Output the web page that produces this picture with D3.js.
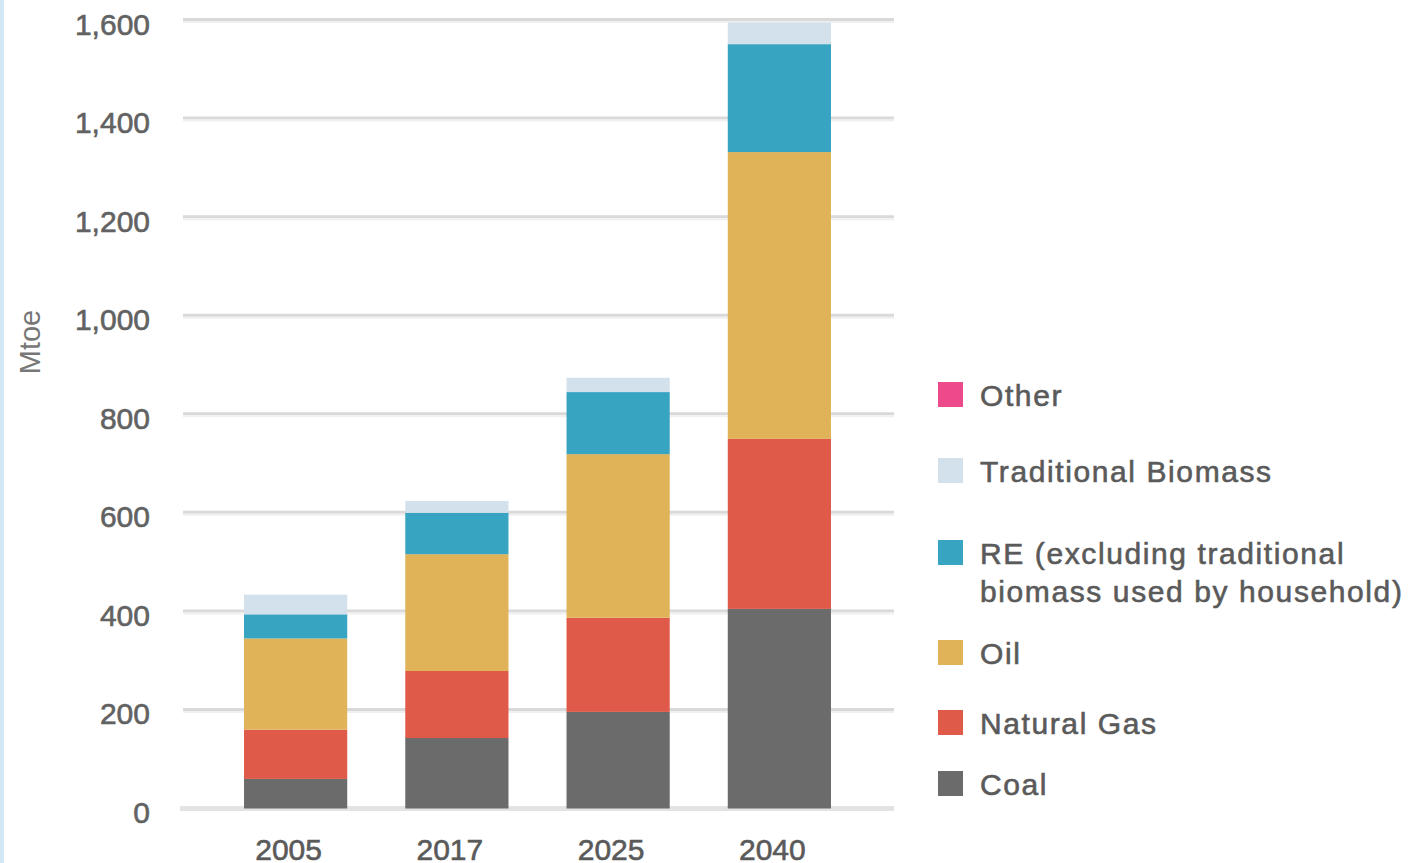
<!DOCTYPE html>
<html>
<head>
<meta charset="utf-8">
<script src="https://cdn.jsdelivr.net/npm/d3@7"></script>
<style>
  html, body { margin: 0; padding: 0; background: #fff; }
  svg { display: block; }
  text { font-family: "Liberation Sans", Arial, sans-serif; }
</style>
</head>
<body>
<div id="chart"></div>
<script>
// ---- Data ----
const years = ["2005", "2017", "2025", "2040"];
const seriesNames = ["Coal", "Natural Gas", "Oil", "RE (excluding traditional biomass used by household)", "Traditional Biomass", "Other"];
const coal = [60, 143, 196, 405];
const naturalGas = [100, 136, 191, 345];
const oil = [185, 237, 332, 582];
const re = [49, 84, 126, 219];
const traditionalBiomass = [40, 24, 29, 44];
const other = [0, 0, 0, 0];
const yTicks = [0, 200, 400, 600, 800, 1000, 1200, 1400, 1600];
const yAxisTitle = "Mtoe";
const legendOrder = ["Other", "Traditional Biomass", "RE (excluding traditional biomass used by household)", "Oil", "Natural Gas", "Coal"];
const legendLines = {
  "RE (excluding traditional biomass used by household)": ["RE (excluding traditional", "biomass used by household)"]
};

// ---- Styles / layout ----
const colors = {
  "Coal": "#6b6b6b",
  "Natural Gas": "#df5a49",
  "Oil": "#e0b358",
  "RE (excluding traditional biomass used by household)": "#37a4c2",
  "Traditional Biomass": "#d3e1ec",
  "Other": "#ec4a8a"
};
const W = 1411, H = 863;
const legendY = [382, 458, 540, 640, 710, 771];

const table = years.map((y, i) => ({
  year: y,
  "Coal": coal[i],
  "Natural Gas": naturalGas[i],
  "Oil": oil[i],
  "RE (excluding traditional biomass used by household)": re[i],
  "Traditional Biomass": traditionalBiomass[i],
  "Other": other[i]
}));

const svg = d3.select("#chart").append("svg").attr("width", W).attr("height", H);

// left accent strip
svg.append("rect").attr("x", 0).attr("y", 0).attr("width", 4).attr("height", H).attr("fill", "#d2e8f6");

const y = d3.scaleLinear().domain([0, 1600]).range([808.5, 20]);
const x = d3.scaleBand().domain(years).range([215, 860]).paddingInner(0.36).paddingOuter(0.18);

// gridlines
const grid = svg.append("g");
yTicks.forEach(t => {
  const gy = y(t);
  if (t === 0) {
    grid.append("line").attr("x1", 180).attr("x2", 894).attr("y1", gy).attr("y2", gy)
      .attr("stroke", "#e3e3e3").attr("stroke-width", 5);
  } else {
    grid.append("line").attr("x1", 183).attr("x2", 894).attr("y1", gy - 0.5).attr("y2", gy - 0.5)
      .attr("stroke", "#d9d9d9").attr("stroke-width", 3);
    grid.append("line").attr("x1", 183).attr("x2", 894).attr("y1", gy + 2).attr("y2", gy + 2)
      .attr("stroke", "#f0f0f0").attr("stroke-width", 2);
  }
});

// y axis labels via d3 axis
const yAxis = d3.axisLeft(y).tickValues(yTicks).tickFormat(d3.format(",")).tickSize(0).tickPadding(0);
const ya = svg.append("g").attr("transform", "translate(150,0)").call(yAxis);
ya.select(".domain").remove();
ya.selectAll("text")
  .attr("font-family", "'Liberation Sans', Arial, sans-serif")
  .attr("font-size", 30)
  .attr("fill", "#626262")
  .attr("stroke", "#626262")
  .attr("stroke-width", 0.6)
  .attr("dy", null)
  .attr("y", 14)
  .attr("text-anchor", "end");

// y title
svg.append("text")
  .attr("transform", "translate(40,342) rotate(-90)")
  .attr("text-anchor", "middle")
  .attr("font-size", 29)
  .attr("fill", "#777")
  .text(yAxisTitle);

// stacked bars
const stack = d3.stack().keys(seriesNames);
const stacked = stack(table);
svg.append("g").selectAll("g").data(stacked).join("g")
  .attr("fill", d => colors[d.key])
  .selectAll("rect").data(d => d).join("rect")
  .attr("x", d => x(d.data.year))
  .attr("width", x.bandwidth())
  .attr("y", d => y(d[1]))
  .attr("height", d => Math.max(0, y(d[0]) - y(d[1])));

// x axis labels
const xAxis = d3.axisBottom(x).tickSize(0).tickPadding(0);
const xa = svg.append("g").call(xAxis);
xa.select(".domain").remove();
xa.selectAll("text")
  .attr("font-family", "'Liberation Sans', Arial, sans-serif")
  .attr("font-size", 30)
  .attr("fill", "#5a5a5a")
  .attr("stroke", "#5a5a5a")
  .attr("stroke-width", 0.6)
  .attr("dy", null)
  .attr("y", 860)
  .attr("dx", -7);

// legend
const lg = svg.append("g");
legendOrder.forEach((name, i) => {
  const ly = legendY[i];
  lg.append("rect").attr("x", 938).attr("y", ly).attr("width", 25).attr("height", 25).attr("fill", colors[name]);
  const lines = legendLines[name] || [name];
  lines.forEach((ln, j) => {
    lg.append("text")
      .attr("x", 980)
      .attr("y", ly + 24 + j * 38)
      .attr("font-size", 30)
      .attr("letter-spacing", "1.6px")
      .attr("fill", "#5a5a5a")
      .attr("stroke", "#5a5a5a")
      .attr("stroke-width", 0.6)
      .text(ln);
  });
});
</script>
</body>
</html>
